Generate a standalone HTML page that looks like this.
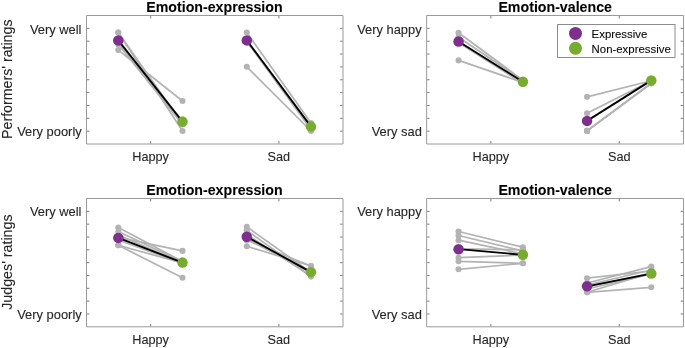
<!DOCTYPE html>
<html lang="en">
<head>
<meta charset="utf-8">
<title>Ratings figure</title>
<style>
html,body{margin:0;padding:0;background:#fff;}
body{width:685px;height:348px;overflow:hidden;}
svg text{font-family:"Liberation Sans",Arial,Helvetica,sans-serif;stroke:#262626;stroke-width:0.1px;}
</style>
</head>
<body>
<svg width="685" height="348" viewBox="0 0 685 348" style="display:block">
<rect x="0" y="0" width="685" height="348" fill="#fff"/>
<g stroke="#B3B3B3" stroke-width="1.7" stroke-linecap="round" fill="none">
<line x1="118.30" y1="32.50" x2="182.50" y2="124.00"/>
<line x1="118.30" y1="32.50" x2="182.50" y2="131.00"/>
<line x1="118.30" y1="50.10" x2="182.50" y2="101.00"/>
<line x1="118.30" y1="44.50" x2="182.50" y2="124.50"/>
<line x1="118.30" y1="43.00" x2="182.50" y2="123.50"/>
</g>
<g fill="#B3B3B3">
<circle cx="118.30" cy="32.50" r="3.05"/><circle cx="182.50" cy="124.00" r="3.05"/>
<circle cx="118.30" cy="32.50" r="3.05"/><circle cx="182.50" cy="131.00" r="3.05"/>
<circle cx="118.30" cy="50.10" r="3.05"/><circle cx="182.50" cy="101.00" r="3.05"/>
<circle cx="118.30" cy="44.50" r="3.05"/><circle cx="182.50" cy="124.50" r="3.05"/>
<circle cx="118.30" cy="43.00" r="3.05"/><circle cx="182.50" cy="123.50" r="3.05"/>
</g>
<line x1="118.30" y1="40.40" x2="182.50" y2="121.60" stroke="#000" stroke-width="1.85"/>
<circle cx="118.30" cy="40.40" r="5.25" fill="#7E2F8E"/>
<circle cx="182.50" cy="121.60" r="5.25" fill="#77AC30"/>
<g stroke="#B3B3B3" stroke-width="1.7" stroke-linecap="round" fill="none">
<line x1="246.80" y1="66.80" x2="311.00" y2="131.00"/>
<line x1="246.80" y1="32.60" x2="311.00" y2="123.10"/>
<line x1="246.80" y1="41.50" x2="311.00" y2="129.50"/>
<line x1="246.80" y1="40.40" x2="311.00" y2="126.60"/>
<line x1="246.80" y1="40.40" x2="311.00" y2="126.60"/>
</g>
<g fill="#B3B3B3">
<circle cx="246.80" cy="66.80" r="3.05"/><circle cx="311.00" cy="131.00" r="3.05"/>
<circle cx="246.80" cy="32.60" r="3.05"/><circle cx="311.00" cy="123.10" r="3.05"/>
<circle cx="246.80" cy="41.50" r="3.05"/><circle cx="311.00" cy="129.50" r="3.05"/>
<circle cx="246.80" cy="40.40" r="3.05"/><circle cx="311.00" cy="126.60" r="3.05"/>
<circle cx="246.80" cy="40.40" r="3.05"/><circle cx="311.00" cy="126.60" r="3.05"/>
</g>
<line x1="246.80" y1="40.40" x2="311.00" y2="126.60" stroke="#000" stroke-width="1.85"/>
<circle cx="246.80" cy="40.40" r="5.25" fill="#7E2F8E"/>
<circle cx="311.00" cy="126.60" r="5.25" fill="#77AC30"/>
<path d="M86.5 144.0V15.5H343.0V144.0Z" fill="none" stroke="#9a9a9a" stroke-width="1"/>
<g stroke="#7a7a7a" stroke-width="1">
<line x1="87.0" y1="131.15" x2="89.4" y2="131.15"/><line x1="342.5" y1="131.15" x2="340.1" y2="131.15"/>
<line x1="87.0" y1="118.30" x2="89.4" y2="118.30"/><line x1="342.5" y1="118.30" x2="340.1" y2="118.30"/>
<line x1="87.0" y1="105.45" x2="89.4" y2="105.45"/><line x1="342.5" y1="105.45" x2="340.1" y2="105.45"/>
<line x1="87.0" y1="92.60" x2="89.4" y2="92.60"/><line x1="342.5" y1="92.60" x2="340.1" y2="92.60"/>
<line x1="87.0" y1="79.75" x2="89.4" y2="79.75"/><line x1="342.5" y1="79.75" x2="340.1" y2="79.75"/>
<line x1="87.0" y1="66.90" x2="89.4" y2="66.90"/><line x1="342.5" y1="66.90" x2="340.1" y2="66.90"/>
<line x1="87.0" y1="54.05" x2="89.4" y2="54.05"/><line x1="342.5" y1="54.05" x2="340.1" y2="54.05"/>
<line x1="87.0" y1="41.20" x2="89.4" y2="41.20"/><line x1="342.5" y1="41.20" x2="340.1" y2="41.20"/>
<line x1="87.0" y1="28.35" x2="89.4" y2="28.35"/><line x1="342.5" y1="28.35" x2="340.1" y2="28.35"/>
<line x1="150.62" y1="16.0" x2="150.62" y2="18.4"/><line x1="150.62" y1="143.5" x2="150.62" y2="141.1"/>
<line x1="278.88" y1="16.0" x2="278.88" y2="18.4"/><line x1="278.88" y1="143.5" x2="278.88" y2="141.1"/>
</g>
<text x="214.45" y="11.70" text-anchor="middle" font-size="14.2" font-weight="bold" fill="#000">Emotion-expression</text>
<text x="150.62" y="161.10" text-anchor="middle" font-size="12.7" fill="#262626">Happy</text>
<text x="278.88" y="161.10" text-anchor="middle" font-size="12.7" fill="#262626">Sad</text>
<text x="81.50" y="33.75" text-anchor="end" font-size="12.9" fill="#262626">Very well</text>
<text x="81.70" y="136.05" text-anchor="end" font-size="12.9" fill="#262626">Very poorly</text>
<g stroke="#B3B3B3" stroke-width="1.7" stroke-linecap="round" fill="none">
<line x1="458.55" y1="32.70" x2="522.90" y2="80.20"/>
<line x1="458.55" y1="37.20" x2="522.90" y2="80.60"/>
<line x1="458.55" y1="42.50" x2="522.90" y2="83.50"/>
<line x1="458.55" y1="41.50" x2="522.90" y2="81.80"/>
<line x1="458.55" y1="60.40" x2="522.90" y2="82.40"/>
</g>
<g fill="#B3B3B3">
<circle cx="458.55" cy="32.70" r="3.05"/><circle cx="522.90" cy="80.20" r="3.05"/>
<circle cx="458.55" cy="37.20" r="3.05"/><circle cx="522.90" cy="80.60" r="3.05"/>
<circle cx="458.55" cy="42.50" r="3.05"/><circle cx="522.90" cy="83.50" r="3.05"/>
<circle cx="458.55" cy="41.50" r="3.05"/><circle cx="522.90" cy="81.80" r="3.05"/>
<circle cx="458.55" cy="60.40" r="3.05"/><circle cx="522.90" cy="82.40" r="3.05"/>
</g>
<line x1="458.55" y1="41.50" x2="522.90" y2="81.80" stroke="#000" stroke-width="1.85"/>
<circle cx="458.55" cy="41.50" r="5.25" fill="#7E2F8E"/>
<circle cx="522.90" cy="81.80" r="5.25" fill="#77AC30"/>
<g stroke="#B3B3B3" stroke-width="1.7" stroke-linecap="round" fill="none">
<line x1="587.05" y1="96.85" x2="651.30" y2="80.80"/>
<line x1="587.05" y1="113.20" x2="651.30" y2="80.80"/>
<line x1="587.05" y1="130.90" x2="651.30" y2="83.30"/>
<line x1="587.05" y1="130.90" x2="651.30" y2="83.30"/>
<line x1="587.05" y1="130.90" x2="651.30" y2="83.30"/>
</g>
<g fill="#B3B3B3">
<circle cx="587.05" cy="96.85" r="3.05"/><circle cx="651.30" cy="80.80" r="3.05"/>
<circle cx="587.05" cy="113.20" r="3.05"/><circle cx="651.30" cy="80.80" r="3.05"/>
<circle cx="587.05" cy="130.90" r="3.05"/><circle cx="651.30" cy="83.30" r="3.05"/>
<circle cx="587.05" cy="130.90" r="3.05"/><circle cx="651.30" cy="83.30" r="3.05"/>
<circle cx="587.05" cy="130.90" r="3.05"/><circle cx="651.30" cy="83.30" r="3.05"/>
</g>
<line x1="587.05" y1="120.90" x2="651.30" y2="80.40" stroke="#000" stroke-width="1.85"/>
<circle cx="587.05" cy="120.90" r="5.25" fill="#7E2F8E"/>
<circle cx="651.30" cy="80.40" r="5.25" fill="#77AC30"/>
<path d="M426.65 144.0V15.5H683.5V144.0Z" fill="none" stroke="#9a9a9a" stroke-width="1"/>
<g stroke="#7a7a7a" stroke-width="1">
<line x1="427.15" y1="131.15" x2="429.54999999999995" y2="131.15"/><line x1="683.0" y1="131.15" x2="680.6" y2="131.15"/>
<line x1="427.15" y1="118.30" x2="429.54999999999995" y2="118.30"/><line x1="683.0" y1="118.30" x2="680.6" y2="118.30"/>
<line x1="427.15" y1="105.45" x2="429.54999999999995" y2="105.45"/><line x1="683.0" y1="105.45" x2="680.6" y2="105.45"/>
<line x1="427.15" y1="92.60" x2="429.54999999999995" y2="92.60"/><line x1="683.0" y1="92.60" x2="680.6" y2="92.60"/>
<line x1="427.15" y1="79.75" x2="429.54999999999995" y2="79.75"/><line x1="683.0" y1="79.75" x2="680.6" y2="79.75"/>
<line x1="427.15" y1="66.90" x2="429.54999999999995" y2="66.90"/><line x1="683.0" y1="66.90" x2="680.6" y2="66.90"/>
<line x1="427.15" y1="54.05" x2="429.54999999999995" y2="54.05"/><line x1="683.0" y1="54.05" x2="680.6" y2="54.05"/>
<line x1="427.15" y1="41.20" x2="429.54999999999995" y2="41.20"/><line x1="683.0" y1="41.20" x2="680.6" y2="41.20"/>
<line x1="427.15" y1="28.35" x2="429.54999999999995" y2="28.35"/><line x1="683.0" y1="28.35" x2="680.6" y2="28.35"/>
<line x1="490.86" y1="16.0" x2="490.86" y2="18.4"/><line x1="490.86" y1="143.5" x2="490.86" y2="141.1"/>
<line x1="619.29" y1="16.0" x2="619.29" y2="18.4"/><line x1="619.29" y1="143.5" x2="619.29" y2="141.1"/>
</g>
<text x="555.18" y="11.70" text-anchor="middle" font-size="14.2" font-weight="bold" fill="#000">Emotion-valence</text>
<text x="490.86" y="161.10" text-anchor="middle" font-size="12.7" fill="#262626">Happy</text>
<text x="619.29" y="161.10" text-anchor="middle" font-size="12.7" fill="#262626">Sad</text>
<text x="421.65" y="33.75" text-anchor="end" font-size="12.9" fill="#262626">Very happy</text>
<text x="421.85" y="136.05" text-anchor="end" font-size="12.9" fill="#262626">Very sad</text>
<g stroke="#B3B3B3" stroke-width="1.7" stroke-linecap="round" fill="none">
<line x1="118.30" y1="227.60" x2="182.50" y2="261.50"/>
<line x1="118.30" y1="231.60" x2="182.50" y2="262.00"/>
<line x1="118.30" y1="235.00" x2="182.50" y2="263.00"/>
<line x1="118.30" y1="237.40" x2="182.50" y2="250.90"/>
<line x1="118.30" y1="245.30" x2="182.50" y2="277.80"/>
<line x1="118.30" y1="245.30" x2="182.50" y2="263.00"/>
<line x1="118.30" y1="240.00" x2="182.50" y2="263.50"/>
</g>
<g fill="#B3B3B3">
<circle cx="118.30" cy="227.60" r="3.05"/><circle cx="182.50" cy="261.50" r="3.05"/>
<circle cx="118.30" cy="231.60" r="3.05"/><circle cx="182.50" cy="262.00" r="3.05"/>
<circle cx="118.30" cy="235.00" r="3.05"/><circle cx="182.50" cy="263.00" r="3.05"/>
<circle cx="118.30" cy="237.40" r="3.05"/><circle cx="182.50" cy="250.90" r="3.05"/>
<circle cx="118.30" cy="245.30" r="3.05"/><circle cx="182.50" cy="277.80" r="3.05"/>
<circle cx="118.30" cy="245.30" r="3.05"/><circle cx="182.50" cy="263.00" r="3.05"/>
<circle cx="118.30" cy="240.00" r="3.05"/><circle cx="182.50" cy="263.50" r="3.05"/>
</g>
<line x1="118.30" y1="237.90" x2="182.50" y2="262.60" stroke="#000" stroke-width="1.85"/>
<circle cx="118.30" cy="237.90" r="5.25" fill="#7E2F8E"/>
<circle cx="182.50" cy="262.60" r="5.25" fill="#77AC30"/>
<g stroke="#B3B3B3" stroke-width="1.7" stroke-linecap="round" fill="none">
<line x1="246.80" y1="226.80" x2="311.00" y2="272.50"/>
<line x1="246.80" y1="230.30" x2="311.00" y2="276.60"/>
<line x1="246.80" y1="234.50" x2="311.00" y2="276.00"/>
<line x1="246.80" y1="237.00" x2="311.00" y2="273.00"/>
<line x1="246.80" y1="239.00" x2="311.00" y2="272.50"/>
<line x1="246.80" y1="240.20" x2="311.00" y2="266.00"/>
<line x1="246.80" y1="246.20" x2="311.00" y2="266.00"/>
</g>
<g fill="#B3B3B3">
<circle cx="246.80" cy="226.80" r="3.05"/><circle cx="311.00" cy="272.50" r="3.05"/>
<circle cx="246.80" cy="230.30" r="3.05"/><circle cx="311.00" cy="276.60" r="3.05"/>
<circle cx="246.80" cy="234.50" r="3.05"/><circle cx="311.00" cy="276.00" r="3.05"/>
<circle cx="246.80" cy="237.00" r="3.05"/><circle cx="311.00" cy="273.00" r="3.05"/>
<circle cx="246.80" cy="239.00" r="3.05"/><circle cx="311.00" cy="272.50" r="3.05"/>
<circle cx="246.80" cy="240.20" r="3.05"/><circle cx="311.00" cy="266.00" r="3.05"/>
<circle cx="246.80" cy="246.20" r="3.05"/><circle cx="311.00" cy="266.00" r="3.05"/>
</g>
<line x1="246.80" y1="236.80" x2="311.00" y2="272.15" stroke="#000" stroke-width="1.85"/>
<circle cx="246.80" cy="236.80" r="5.25" fill="#7E2F8E"/>
<circle cx="311.00" cy="272.15" r="5.25" fill="#77AC30"/>
<path d="M86.5 326.8V198.5H343.0V326.8Z" fill="none" stroke="#9a9a9a" stroke-width="1"/>
<g stroke="#7a7a7a" stroke-width="1">
<line x1="87.0" y1="313.97" x2="89.4" y2="313.97"/><line x1="342.5" y1="313.97" x2="340.1" y2="313.97"/>
<line x1="87.0" y1="301.14" x2="89.4" y2="301.14"/><line x1="342.5" y1="301.14" x2="340.1" y2="301.14"/>
<line x1="87.0" y1="288.31" x2="89.4" y2="288.31"/><line x1="342.5" y1="288.31" x2="340.1" y2="288.31"/>
<line x1="87.0" y1="275.48" x2="89.4" y2="275.48"/><line x1="342.5" y1="275.48" x2="340.1" y2="275.48"/>
<line x1="87.0" y1="262.65" x2="89.4" y2="262.65"/><line x1="342.5" y1="262.65" x2="340.1" y2="262.65"/>
<line x1="87.0" y1="249.82" x2="89.4" y2="249.82"/><line x1="342.5" y1="249.82" x2="340.1" y2="249.82"/>
<line x1="87.0" y1="236.99" x2="89.4" y2="236.99"/><line x1="342.5" y1="236.99" x2="340.1" y2="236.99"/>
<line x1="87.0" y1="224.16" x2="89.4" y2="224.16"/><line x1="342.5" y1="224.16" x2="340.1" y2="224.16"/>
<line x1="87.0" y1="211.33" x2="89.4" y2="211.33"/><line x1="342.5" y1="211.33" x2="340.1" y2="211.33"/>
<line x1="150.62" y1="199.0" x2="150.62" y2="201.4"/><line x1="150.62" y1="326.3" x2="150.62" y2="323.90000000000003"/>
<line x1="278.88" y1="199.0" x2="278.88" y2="201.4"/><line x1="278.88" y1="326.3" x2="278.88" y2="323.90000000000003"/>
</g>
<text x="214.45" y="194.70" text-anchor="middle" font-size="14.2" font-weight="bold" fill="#000">Emotion-expression</text>
<text x="150.62" y="343.90" text-anchor="middle" font-size="12.7" fill="#262626">Happy</text>
<text x="278.88" y="343.90" text-anchor="middle" font-size="12.7" fill="#262626">Sad</text>
<text x="81.50" y="215.93" text-anchor="end" font-size="12.9" fill="#262626">Very well</text>
<text x="81.70" y="318.87" text-anchor="end" font-size="12.9" fill="#262626">Very poorly</text>
<g stroke="#B3B3B3" stroke-width="1.7" stroke-linecap="round" fill="none">
<line x1="458.55" y1="231.50" x2="522.90" y2="247.20"/>
<line x1="458.55" y1="235.50" x2="522.90" y2="251.00"/>
<line x1="458.55" y1="240.20" x2="522.90" y2="254.00"/>
<line x1="458.55" y1="257.70" x2="522.90" y2="255.00"/>
<line x1="458.55" y1="261.30" x2="522.90" y2="263.30"/>
<line x1="458.55" y1="269.30" x2="522.90" y2="263.30"/>
<line x1="458.55" y1="248.90" x2="522.90" y2="249.80"/>
</g>
<g fill="#B3B3B3">
<circle cx="458.55" cy="231.50" r="3.05"/><circle cx="522.90" cy="247.20" r="3.05"/>
<circle cx="458.55" cy="235.50" r="3.05"/><circle cx="522.90" cy="251.00" r="3.05"/>
<circle cx="458.55" cy="240.20" r="3.05"/><circle cx="522.90" cy="254.00" r="3.05"/>
<circle cx="458.55" cy="257.70" r="3.05"/><circle cx="522.90" cy="255.00" r="3.05"/>
<circle cx="458.55" cy="261.30" r="3.05"/><circle cx="522.90" cy="263.30" r="3.05"/>
<circle cx="458.55" cy="269.30" r="3.05"/><circle cx="522.90" cy="263.30" r="3.05"/>
<circle cx="458.55" cy="248.90" r="3.05"/><circle cx="522.90" cy="249.80" r="3.05"/>
</g>
<line x1="458.55" y1="249.20" x2="522.90" y2="254.80" stroke="#000" stroke-width="1.85"/>
<circle cx="458.55" cy="249.20" r="5.25" fill="#7E2F8E"/>
<circle cx="522.90" cy="254.80" r="5.25" fill="#77AC30"/>
<g stroke="#B3B3B3" stroke-width="1.7" stroke-linecap="round" fill="none">
<line x1="587.05" y1="278.20" x2="651.30" y2="271.00"/>
<line x1="587.05" y1="283.00" x2="651.30" y2="266.60"/>
<line x1="587.05" y1="285.00" x2="651.30" y2="270.00"/>
<line x1="587.05" y1="287.00" x2="651.30" y2="273.00"/>
<line x1="587.05" y1="289.00" x2="651.30" y2="274.00"/>
<line x1="587.05" y1="292.30" x2="651.30" y2="287.30"/>
<line x1="587.05" y1="292.30" x2="651.30" y2="273.00"/>
</g>
<g fill="#B3B3B3">
<circle cx="587.05" cy="278.20" r="3.05"/><circle cx="651.30" cy="271.00" r="3.05"/>
<circle cx="587.05" cy="283.00" r="3.05"/><circle cx="651.30" cy="266.60" r="3.05"/>
<circle cx="587.05" cy="285.00" r="3.05"/><circle cx="651.30" cy="270.00" r="3.05"/>
<circle cx="587.05" cy="287.00" r="3.05"/><circle cx="651.30" cy="273.00" r="3.05"/>
<circle cx="587.05" cy="289.00" r="3.05"/><circle cx="651.30" cy="274.00" r="3.05"/>
<circle cx="587.05" cy="292.30" r="3.05"/><circle cx="651.30" cy="287.30" r="3.05"/>
<circle cx="587.05" cy="292.30" r="3.05"/><circle cx="651.30" cy="273.00" r="3.05"/>
</g>
<line x1="587.05" y1="286.30" x2="651.30" y2="273.60" stroke="#000" stroke-width="1.85"/>
<circle cx="587.05" cy="286.30" r="5.25" fill="#7E2F8E"/>
<circle cx="651.30" cy="273.60" r="5.25" fill="#77AC30"/>
<path d="M426.65 326.8V198.5H683.5V326.8Z" fill="none" stroke="#9a9a9a" stroke-width="1"/>
<g stroke="#7a7a7a" stroke-width="1">
<line x1="427.15" y1="313.97" x2="429.54999999999995" y2="313.97"/><line x1="683.0" y1="313.97" x2="680.6" y2="313.97"/>
<line x1="427.15" y1="301.14" x2="429.54999999999995" y2="301.14"/><line x1="683.0" y1="301.14" x2="680.6" y2="301.14"/>
<line x1="427.15" y1="288.31" x2="429.54999999999995" y2="288.31"/><line x1="683.0" y1="288.31" x2="680.6" y2="288.31"/>
<line x1="427.15" y1="275.48" x2="429.54999999999995" y2="275.48"/><line x1="683.0" y1="275.48" x2="680.6" y2="275.48"/>
<line x1="427.15" y1="262.65" x2="429.54999999999995" y2="262.65"/><line x1="683.0" y1="262.65" x2="680.6" y2="262.65"/>
<line x1="427.15" y1="249.82" x2="429.54999999999995" y2="249.82"/><line x1="683.0" y1="249.82" x2="680.6" y2="249.82"/>
<line x1="427.15" y1="236.99" x2="429.54999999999995" y2="236.99"/><line x1="683.0" y1="236.99" x2="680.6" y2="236.99"/>
<line x1="427.15" y1="224.16" x2="429.54999999999995" y2="224.16"/><line x1="683.0" y1="224.16" x2="680.6" y2="224.16"/>
<line x1="427.15" y1="211.33" x2="429.54999999999995" y2="211.33"/><line x1="683.0" y1="211.33" x2="680.6" y2="211.33"/>
<line x1="490.86" y1="199.0" x2="490.86" y2="201.4"/><line x1="490.86" y1="326.3" x2="490.86" y2="323.90000000000003"/>
<line x1="619.29" y1="199.0" x2="619.29" y2="201.4"/><line x1="619.29" y1="326.3" x2="619.29" y2="323.90000000000003"/>
</g>
<text x="555.18" y="194.70" text-anchor="middle" font-size="14.2" font-weight="bold" fill="#000">Emotion-valence</text>
<text x="490.86" y="343.90" text-anchor="middle" font-size="12.7" fill="#262626">Happy</text>
<text x="619.29" y="343.90" text-anchor="middle" font-size="12.7" fill="#262626">Sad</text>
<text x="421.65" y="215.93" text-anchor="end" font-size="12.9" fill="#262626">Very happy</text>
<text x="421.85" y="318.87" text-anchor="end" font-size="12.9" fill="#262626">Very sad</text>
<text transform="translate(11.5,79.2) rotate(-90)" text-anchor="middle" font-size="14.2" fill="#262626">Performers' ratings</text>
<text transform="translate(11.5,262.1) rotate(-90)" text-anchor="middle" font-size="14.25" fill="#262626">Judges' ratings</text>
<rect x="557.5" y="24.5" width="117.5" height="33" fill="#fff" stroke="#8c8c8c" stroke-width="1"/>
<circle cx="575.5" cy="33.4" r="6.5" fill="#7E2F8E"/>
<circle cx="575.5" cy="48.3" r="6.5" fill="#77AC30"/>
<text x="591.6" y="37.5" font-size="11.4" fill="#000">Expressive</text>
<text x="591.6" y="53" font-size="11.4" fill="#000">Non-expressive</text>
</svg>
</body>
</html>
